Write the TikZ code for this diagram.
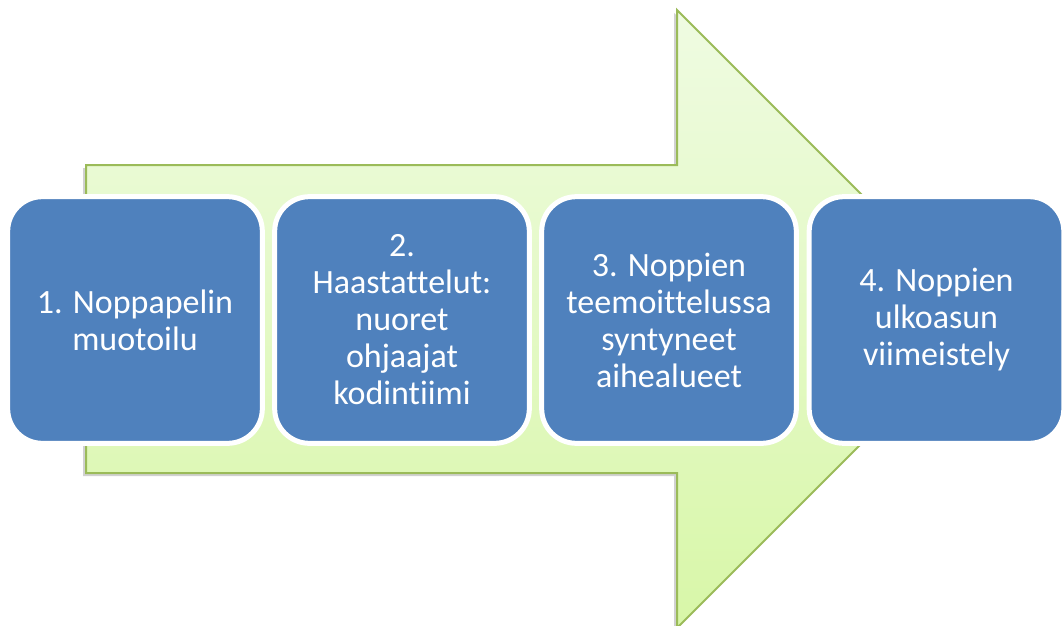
\documentclass[tikz,border=0pt]{standalone}
\usepackage{fontspec}
\setmainfont[Ligatures=NoCommon]{Carlito}
\usepackage{tikz}
\usetikzlibrary{shadows}
\definecolor{stageblue}{HTML}{4F81BD}
\definecolor{arrowline}{HTML}{9BBB59}
\definecolor{arrowtop}{HTML}{EFFBE2}
\definecolor{arrowbot}{HTML}{D8F7A8}

\begin{document}
\begin{tikzpicture}[x=0.75pt,y=-0.75pt]
\tikzstyle{stage}=[rectangle,rounded corners=26pt,fill=stageblue,draw=white,line width=3.75pt,
  minimum width=191pt,minimum height=185pt,inner sep=0pt,outer sep=0pt,
  text=white,align=center,font=\fontsize{25.5}{27.75}\selectfont]

\useasboundingbox (0,0) rectangle (1064,625);

% big arrow behind the boxes
\begin{scope}
\clip (0,0) rectangle (1064,625);
\fill[black,opacity=0.18] (83,168) -- (674,168) -- (674,13) -- (983,322) -- (674,631) -- (674,476) -- (83,476) -- cycle;
\draw[arrowline,line width=1.5pt,top color=arrowtop,bottom color=arrowbot]
  (86,165) -- (677,165) -- (677,10) -- (986,319) -- (677,628) -- (677,473) -- (86,473) -- cycle;
\end{scope}

\node at (135,320) [stage] (s1) {1. Noppapelin\\muotoilu};
\node at (402,320) [stage] (s2) {2.\\Haastattelut:\\nuoret\\ohjaajat\\kodintiimi};
\node at (669,320) [stage] (s3) {3. Noppien\\teemoittelussa\\syntyneet\\aihealueet};
\node at (936.5,320) [stage] (s4) {4. Noppien\\ulkoasun\\viimeistely};

\end{tikzpicture}
\end{document}
